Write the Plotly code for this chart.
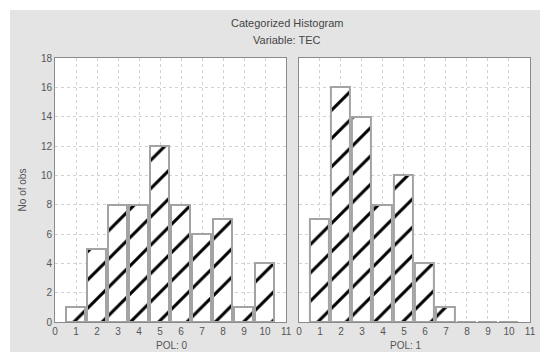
import plotly.graph_objects as go

categories = [1, 2, 3, 4, 5, 6, 7, 8, 9, 10]
pol0_counts = [1, 5, 8, 8, 12, 8, 6, 7, 1, 4]
pol1_counts = [7, 16, 14, 8, 10, 4, 1, 0, 0, 0]
x_ticks = list(range(0, 12))
y_ticks = list(range(0, 19, 2))

# Gray panel occupies page pixels x 10..540, y 10..352
OX, OY = 10, 10
W, H = 530, 342
ML, MR, MT, MB = 55 - OX, 4, 58 - OY, 352 - 322
pw = W - ML - MR
ph = H - MT - MB

def px2x(p):
    return (p - OX - ML) / pw

def py2y(p):
    return (H + OY - MB - p) / ph

bar_style = dict(
    color="white",
    line=dict(color="#a3a3a3", width=2),
    pattern=dict(shape="/", fgcolor="#000000", bgcolor="white", size=20,
                 solidity=0.15, fgopacity=1, fillmode="replace"),
)

fig = go.Figure()
fig.add_trace(go.Bar(x=categories, y=pol0_counts, xaxis="x", yaxis="y",
                     marker=bar_style, width=0.93, offset=-0.5, showlegend=False))
fig.add_trace(go.Bar(x=categories, y=pol1_counts, xaxis="x2", yaxis="y2",
                     marker=bar_style, width=0.93, offset=-0.5, showlegend=False))

FONT = "Liberation Sans, Arial, sans-serif"
font_main = dict(family=FONT, size=10, color="#555555")

xax = dict(range=[0, 11], tickmode="array", tickvals=x_ticks, showgrid=True,
           gridcolor="#d2d2d2", griddash="dot", gridwidth=1, zeroline=False,
           showline=True, linecolor="#8a8a8a", linewidth=1, mirror=True,
           ticks="", tickfont=font_main, fixedrange=True)
yax = dict(range=[0, 18], tickmode="array", tickvals=y_ticks, showgrid=True,
           gridcolor="#d2d2d2", griddash="dot", gridwidth=1, zeroline=False,
           showline=True, linecolor="#8a8a8a", linewidth=1, mirror=True,
           ticks="", tickfont=font_main, fixedrange=True)

ann = lambda text, x, y, size=10, color="#555555", angle=0: dict(
    text=text, xref="paper", yref="paper", x=px2x(x), y=py2y(y),
    xanchor="center", yanchor="middle", showarrow=False, textangle=angle,
    font=dict(family=FONT, size=size, color=color))

fig.update_layout(
    width=W, height=H,
    margin=dict(l=ML, r=MR, t=MT, b=MB, pad=0),
    paper_bgcolor="#e4e4e4",
    plot_bgcolor="white",
    bargap=0,
    xaxis=dict(xax, domain=[0, px2x(289)], anchor="y"),
    yaxis=dict(yax, anchor="x"),
    xaxis2=dict(xax, domain=[px2x(302), 1], anchor="y2"),
    yaxis2=dict(yax, anchor="x2", showticklabels=False),
    font=font_main,
    annotations=[
        ann("Categorized Histogram", 290, 23, 11, "#444444"),
        ann("Variable: TEC", 290, 40, 11, "#444444"),
        ann("No of obs", 22, 190, angle=-90),
        ann("POL: 0", 173, 345),
        ann("POL: 1", 410, 345),
    ],
)

fig.write_html(
    "out.html",
    config={"displayModeBar": False},
    post_script=(
        "document.body.style.margin='0';document.body.style.padding='0';"
        "document.body.style.background='white';"
        "var d=document.getElementById('{plot_id}');"
        "d.style.marginLeft='10px';d.style.marginTop='10px';"
    ),
)
